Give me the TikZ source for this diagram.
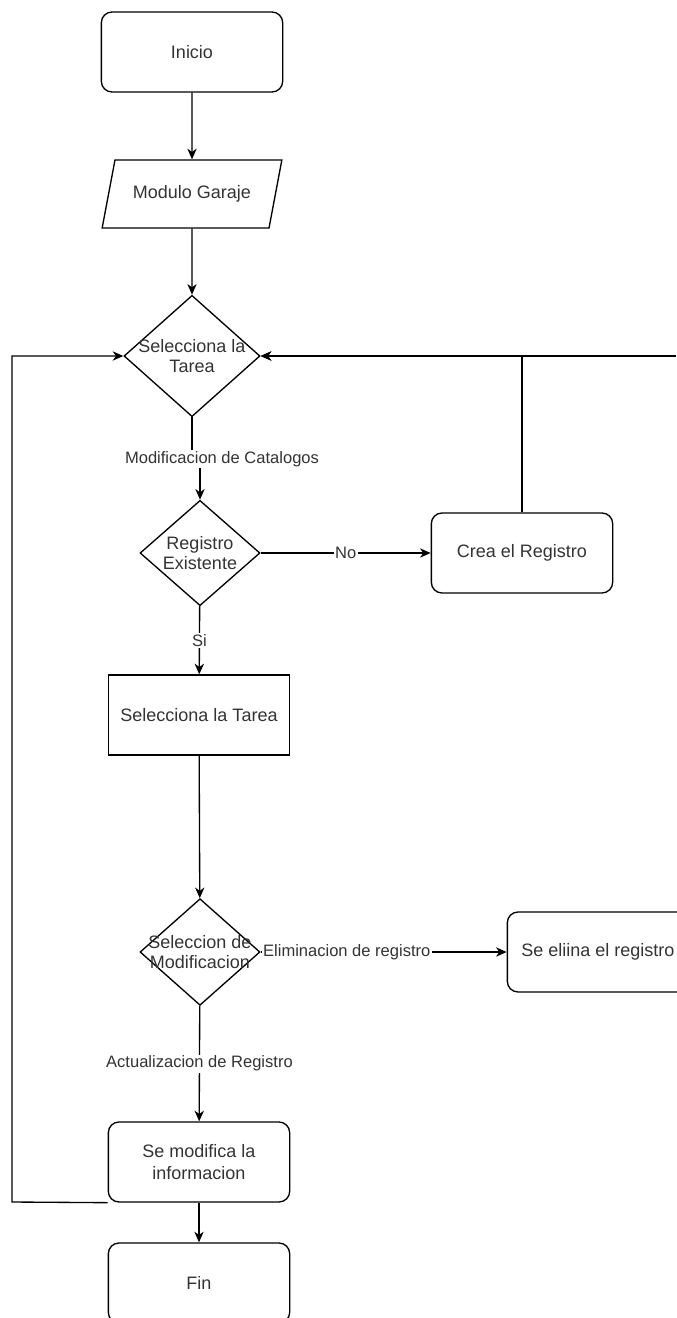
\documentclass[tikz,border=0pt]{standalone}
\usepackage{fontspec}
\setmainfont{Liberation Sans}
\usetikzlibrary{arrows.meta, shapes.geometric}
\definecolor{fctext}{HTML}{333333}

\begin{document}
\begin{tikzpicture}[x=0.75pt, y=-0.75pt, line width=1pt,
  term/.style={draw, rounded corners=8pt, minimum width=136pt, minimum height=60pt, align=center, font=\fontsize{13.5}{16}\selectfont, text=fctext},
  proc/.style={draw, minimum width=136pt, minimum height=60pt, align=center, font=\fontsize{13.5}{16}\selectfont, text=fctext},
  io/.style={draw, trapezium, trapezium left angle=67.6, trapezium right angle=112.4, trapezium stretches=true, minimum width=135pt, minimum height=51pt, font=\fontsize{13.5}{16}\selectfont, text=fctext},
  decision/.style={draw, diamond, inner sep=0pt},
  dtext/.style={align=center, font=\fontsize{13.5}{15.5}\selectfont, text=fctext},
  lbl/.style={fill=white, inner sep=1pt, font=\fontsize{12.4}{14}\selectfont, text=fctext},
  arr/.style={-{Stealth[length=8pt, width=7pt, inset=2.5pt]}}
]
  \useasboundingbox (0,0) rectangle (676,1318);

  \node[term] (inicio) at (192,52) {Inicio};
  \node[io] (garaje) at (192,194) {Modulo Garaje};
  \node[decision, minimum width=102pt, minimum height=91pt, label={[dtext]center:{Selecciona la\\Tarea}}] (tarea) at (192,356) {};
  \node[decision, minimum width=90pt, minimum height=79pt, label={[dtext]center:{Registro\\Existente}}] (existe) at (200,553) {};
  \node[term] (crea) at (522,553) {Crea el Registro};
  \node[proc] (seltarea) at (199,715) {Selecciona la Tarea};
  \node[decision, minimum width=90pt, minimum height=80pt, label={[dtext]center:{Seleccion de\\Modificacion}}] (selmod) at (200,952) {};
  \node[term] (elimina) at (598,952) {Se eliina el registro};
  \node[term] (modifica) at (199,1162) {Se modifica la\\informacion};
  \node[term] (fin) at (199,1283) {Fin};

  \coordinate (loopL) at (12,1202);
  \coordinate (loopR) at (676,356);

  \draw[arr] (inicio) -- (garaje);
  \draw[arr] (garaje) -- (tarea);
  \draw[arr] (tarea.south) -- ++(0,42) node[lbl, xshift=22.5pt] {Modificacion de Catalogos} -| (existe.north);
  \draw[arr] (existe) -- node[lbl] {No} (crea);
  \draw[arr] (crea.north) |- (tarea.east);
  \draw[arr] (loopR) -- (tarea.east);
  \draw[arr] (existe) -- node[lbl] {Si} (seltarea);
  \draw[arr] (seltarea) -- (selmod);
  \draw[arr] (selmod) -- node[lbl, pos=0.35] {Eliminacion de registro} (elimina);
  \draw[arr] (selmod) -- node[lbl] {Actualizacion de Registro} (modifica);
  \draw[arr] (modifica.south west) -- (loopL) |- (tarea.west);
  \draw[arr] (modifica) -- (fin);
\end{tikzpicture}
\end{document}
